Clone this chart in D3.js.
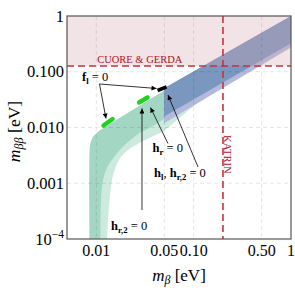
<!DOCTYPE html>
<html><head><meta charset="utf-8">
<script src="https://cdn.jsdelivr.net/npm/d3@7"></script>
<style>
body{margin:0;background:#fff}
svg{display:block}
text{font-family:"Liberation Serif","Times New Roman",serif}
</style>
</head><body>
<svg id="chart" width="295" height="295"></svg>
<script>
// ---------- data ----------
const xTicks = [0.01, 0.05, 0.1, 0.5, 1];
const xTickLabels = ["0.01", "0.05", "0.10", "0.50", "1"];
const yTicks = [1e-4, 1e-3, 1e-2, 1e-1, 1];
const yTickLabels = [["10", "−4"], ["0.001"], ["0.010"], ["0.100"], ["1"]];
const xGrid = [0.01, 0.05, 0.1, 0.5];
const yGrid = [0.001, 0.01, 0.1];
const cuoreLimit = 0.127;
const katrinLimit = 0.2;

// normal ordering band (mβ, mββ): curved part, then straight continuation under the IO band
const noOuterCurve = [[0.00855,1e-4],[0.00855,0.00411],[0.00866,0.00485],[0.00888,0.0058],[0.00925,0.00675],
  [0.00986,0.00765],[0.01066,0.00865],[0.01152,0.0094],[0.01297,0.01077],[0.0497,0.0457]];
const noOuterTail = [[1,0.95]];
const noDarkTail = [[1,0.3],[0.1,0.03]];
const noDarkInner = [[0.0497,0.0142],[0.0362,0.01008],[0.0264,0.0075],[0.0185,0.00441],
  [0.0152,0.00292],[0.01297,0.00193],[0.01152,0.00097],[0.01104,1e-4]];
const noLightTail = [[1,0.27],[0.12,0.031]];
const noLightInner = [[0.07,0.0145],[0.0497,0.00877],[0.0392,0.00713],[0.0286,0.00543],
  [0.0208,0.00384],[0.0178,0.00292],[0.0158,0.00193],[0.01426,0.00097],[0.0129,1e-4]];

// inverted ordering band
const ioUpper = [[0.0497,0.0505],[1,1]];
const ioLowerDark = [[0.0497,0.0157],[1,0.323]];
const ioLowerLight = [[0.0497,0.0119],[1,0.275]];

// markers
const greenMarkers = [[[0.01186,0.01086],[0.01468,0.0142]], [[0.0275,0.0281],[0.0336,0.0345]]];
const blackMarker = [[0.0426,0.0461],[0.0526,0.0533]];

// annotation arrows [from, to]
const arrows = [
  [[0.01078,0.0603],[0.01258,0.0145]],
  [[0.01078,0.0603],[0.04154,0.0501]],
  [[0.0545,0.00516],[0.0360,0.02284]],
  [[0.1109,0.001956],[0.0545,0.0383]],
  [[0.02947,0.000331],[0.02947,0.02192]]
];
const labels = [
  {pos:[0.00713,0.0682], parts:[{t:"f",b:1},{t:"l",b:1,s:1},{t:" = 0"}]},
  {pos:[0.0378,0.00371], parts:[{t:"h",b:1},{t:"r",b:1,s:1},{t:" = 0"}]},
  {pos:[0.0392,0.001295], parts:[{t:"h",b:1},{t:"l",b:1,s:1},{t:", "},{t:"h",b:1},{t:"r,2",b:1,s:1},{t:" = 0"}]},
  {pos:[0.01416,0.000148], parts:[{t:"h",b:1},{t:"r,2",b:1,s:1},{t:" = 0"}]}
];
const cuoreText = "CUORE & GERDA";
const cuoreTextX = 0.0102;
const katrinText = "KATRIN";
const katrinTextY = 0.0073;

// ---------- drawing ----------
const L = 67, R = 291, T = 16, B = 239;
const svg = d3.select("#chart");
const x = d3.scaleLog().domain([0.005, 1]).range([L, R]);
const y = d3.scaleLog().domain([1e-4, 1]).range([B, T]);

const defs = svg.append("defs");
defs.append("clipPath").attr("id","clip").append("rect")
  .attr("x",L).attr("y",T).attr("width",R-L).attr("height",B-T);
defs.append("marker").attr("id","ah").attr("viewBox","0 0 10 10")
  .attr("refX",10).attr("refY",5).attr("markerUnits","userSpaceOnUse")
  .attr("markerWidth",7).attr("markerHeight",5).attr("orient","auto")
  .append("path").attr("d","M0,0L10,5L0,10z").attr("fill","#000");

const g = svg.append("g").attr("clip-path","url(#clip)");
const curve = d3.line().x(d=>x(d[0])).y(d=>y(d[1])).curve(d3.curveCatmullRom.alpha(0.5));
const lin = d3.line().x(d=>x(d[0])).y(d=>y(d[1]));
const cont = s => "L" + s.slice(1);

const noLightPath = curve(noOuterCurve) + cont(lin(noOuterTail.concat(noLightTail))) + cont(curve(noLightInner)) + "Z";
const noDarkPath = curve(noOuterCurve) + cont(lin(noOuterTail.concat(noDarkTail))) + cont(curve(noDarkInner)) + "Z";

// bands
g.append("path").attr("d", noLightPath).attr("fill","#cdeadf");
g.append("path").attr("d", noDarkPath).attr("fill","#a3d7c3");
g.append("path").attr("d", lin(ioUpper.concat(ioLowerLight.slice().reverse())) + "Z").attr("fill","#b3b9dc");
g.append("path").attr("d", lin(ioUpper.concat(ioLowerDark.slice().reverse())) + "Z").attr("fill","#7a97bf");

// excluded region (CUORE & GERDA)
g.append("rect").attr("x",L).attr("y",T).attr("width",R-L).attr("height",y(cuoreLimit)-T)
  .attr("fill","#d4a5ac").attr("opacity",0.3);

// grid
g.selectAll(".gx").data(xGrid).join("line")
  .attr("x1",d=>x(d)).attr("x2",d=>x(d)).attr("y1",T).attr("y2",B)
  .attr("stroke","#000").attr("stroke-opacity",0.13).attr("stroke-width",0.8).attr("stroke-dasharray","4,3");
g.selectAll(".gy").data(yGrid).join("line")
  .attr("y1",d=>y(d)).attr("y2",d=>y(d)).attr("x1",L).attr("x2",R)
  .attr("stroke","#000").attr("stroke-opacity",0.13).attr("stroke-width",0.8).attr("stroke-dasharray","4,3");

// limits
const red = "#c8323e";
g.append("line").attr("x1",L).attr("x2",R).attr("y1",y(cuoreLimit)).attr("y2",y(cuoreLimit))
  .attr("stroke",red).attr("stroke-width",1.6).attr("stroke-dasharray","7,4");
g.append("line").attr("x1",x(katrinLimit)).attr("x2",x(katrinLimit)).attr("y1",T).attr("y2",B)
  .attr("stroke",red).attr("stroke-width",1.6).attr("stroke-dasharray","7,4");

svg.append("text").attr("x",x(cuoreTextX)).attr("y",y(cuoreLimit)-2.5)
  .attr("font-size",10.5).attr("fill","#a8141e").text(cuoreText);
svg.append("text").attr("transform",`translate(${x(katrinLimit)+1.5},${y(katrinTextY)}) rotate(90)`)
  .attr("font-size",10.5).attr("fill","#a8141e").text(katrinText);

// markers
g.selectAll(".gm").data(greenMarkers).join("path").attr("d",d=>lin(d))
  .attr("stroke","#1fd21f").attr("stroke-width",4.5).attr("stroke-linecap","round");
g.append("path").attr("d",lin(blackMarker))
  .attr("stroke","#000").attr("stroke-width",3.5).attr("stroke-linecap","butt");

// arrows
svg.selectAll(".ar").data(arrows).join("line")
  .attr("x1",d=>x(d[0][0])).attr("y1",d=>y(d[0][1]))
  .attr("x2",d=>x(d[1][0])).attr("y2",d=>y(d[1][1]))
  .attr("stroke","#000").attr("stroke-width",0.8).attr("marker-end","url(#ah)");

// labels
labels.forEach(lb=>{
  const t = svg.append("text").attr("x",x(lb.pos[0])).attr("y",y(lb.pos[1])).attr("font-size",12.5).attr("fill","#000");
  let shifted = false;
  lb.parts.forEach(p=>{
    const ts = t.append("tspan").text(p.t);
    if (p.b) ts.attr("font-weight","bold");
    if (p.s) { ts.attr("font-size","70%").attr("dy",3); shifted = true; }
    else if (shifted) { ts.attr("dy",-3); shifted = false; }
  });
});

// frame
svg.append("rect").attr("x",L).attr("y",T).attr("width",R-L).attr("height",B-T)
  .attr("fill","none").attr("stroke","#555").attr("stroke-width",1.2);

// axes tick labels
svg.selectAll(".xt").data(xTicks).join("text")
  .attr("x",d=>x(d)).attr("y",B+17).attr("text-anchor","middle").attr("font-size",16)
  .text((d,i)=>xTickLabels[i]);
svg.selectAll(".yt").data(yTicks).join("text")
  .attr("x",L-3).attr("y",d=>y(d)+5.5).attr("text-anchor","end").attr("font-size",16.5)
  .each(function(d,i){
    const lab = yTickLabels[i];
    const t = d3.select(this);
    t.append("tspan").text(lab[0]);
    if (lab[1]) t.append("tspan").attr("font-size","70%").attr("dy",-7).text(lab[1]);
  });

// axis titles
const xl = svg.append("text").attr("x",(L+R)/2).attr("y",281).attr("text-anchor","middle").attr("font-size",17);
xl.append("tspan").attr("font-style","italic").text("m");
xl.append("tspan").attr("font-style","italic").attr("font-size","70%").attr("dy",3).text("β");
xl.append("tspan").attr("dy",-3).text(" [eV]");

const yl = svg.append("text").attr("transform",`translate(20,${(T+B)/2+4}) rotate(-90)`)
  .attr("text-anchor","middle").attr("font-size",17.5);
yl.append("tspan").attr("font-style","italic").text("m");
yl.append("tspan").attr("font-style","italic").attr("font-size","70%").attr("dy",3).text("ββ");
yl.append("tspan").attr("dy",-3).text(" [eV]");
</script>
</body></html>
